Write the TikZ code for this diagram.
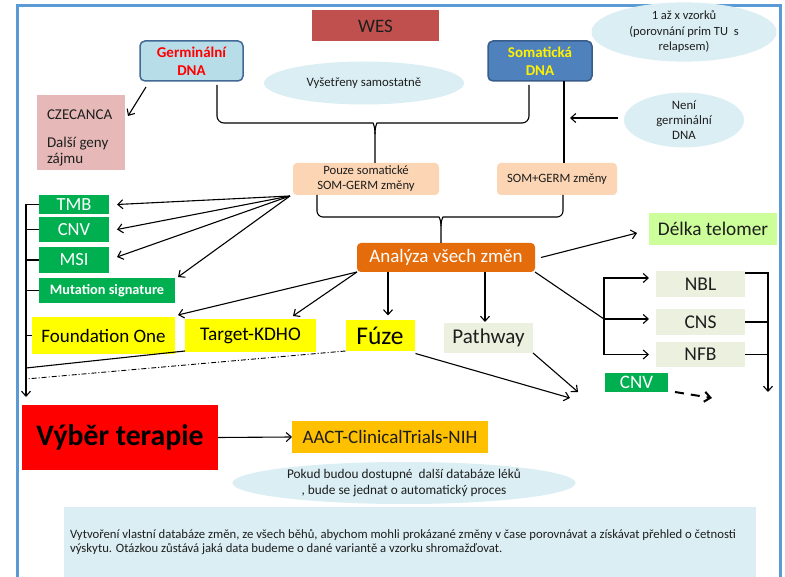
\documentclass[tikz,border=0pt]{standalone}
\usepackage{fontspec}
\setmainfont{Carlito}
\usetikzlibrary{arrows.meta,calc,shapes.geometric}
\definecolor{frameblue}{RGB}{91,155,213}
\definecolor{wesred}{RGB}{192,80,77}
\definecolor{germfill}{RGB}{183,221,232}
\definecolor{germdraw}{RGB}{65,105,150}
\definecolor{somafill}{RGB}{79,129,189}
\definecolor{somadraw}{RGB}{56,93,138}
\definecolor{ellfill}{RGB}{218,238,243}
\definecolor{pinkfill}{RGB}{230,185,184}
\definecolor{peach}{RGB}{252,213,180}
\definecolor{orangebox}{RGB}{228,108,10}
\definecolor{greenbox}{RGB}{0,176,80}
\definecolor{yellowbox}{RGB}{255,255,0}
\definecolor{paleg}{RGB}{235,241,222}
\definecolor{lightg}{RGB}{204,255,153}
\definecolor{aactfill}{RGB}{255,192,0}
\definecolor{txt}{RGB}{30,30,30}
\begin{document}
\begin{tikzpicture}[x=1pt,y=-1pt,
  every node/.style={inner sep=0pt,outer sep=0pt,text=txt},
  ln/.style={line width=1.1pt,black},
  arr/.style={ln,-{Straight Barb[length=5pt,width=9pt]}},
  ell/.style={ellipse,fill=ellfill,align=center},
  gbox/.style={fill=greenbox,text=white},
  ybox/.style={fill=yellowbox,text=black}]
\useasboundingbox (0,0) rectangle (785,577);
\fill[white] (0,0) rectangle (785,577);
\draw[frameblue,line width=3pt] (17.5,600) -- (17.5,5.5) -- (780,5.5) -- (780,600);

% top
\node[fill=wesred,minimum width=127,minimum height=31,font=\fontsize{19}{21}\selectfont] (wes) at (375.5,26) {WES};
\node[draw=germdraw,line width=1.5pt,fill=germfill,rounded corners=5pt,minimum width=103,minimum height=40,align=center,text=red,font=\fontsize{15}{17.5}\selectfont\bfseries] (germ) at (191.5,61) {Germinální\\DNA};
\node[draw=somadraw,line width=1.5pt,fill=somafill,rounded corners=5pt,minimum width=104,minimum height=40,align=center,text=yellow,font=\fontsize{15}{17.5}\selectfont\bfseries] (soma) at (540,61) {Somatická\\DNA};
\node[ell,minimum width=200,minimum height=43,font=\fontsize{12.8}{15}\selectfont] (vys) at (364,83) {Vyšetřeny samostatně};
\node[ell,minimum width=185,minimum height=45,font=\fontsize{12.5}{15.5}\selectfont] (vzor) at (684,32) {1 až x vzorků\\(porovnání prim TU\ \ s\\relapsem)};
\node[ell,minimum width=120,minimum height=44,font=\fontsize{12.8}{15}\selectfont] (neni) at (684,120) {Není\\germinální\\DNA};
\node[fill=pinkfill,minimum width=88,minimum height=75] (czech) at (81,132.5) {};
\node[anchor=north west,align=left,font=\fontsize{15}{16}\selectfont] (czechtxt) at (47,109.5) {CZECANCA\\[12pt]Další geny\\zájmu};

\node[fill=peach,rounded corners=4pt,minimum width=146,minimum height=32,align=center,font=\fontsize{12.7}{15}\selectfont] (pouze) at (366,179) {Pouze somatické\\SOM-GERM změny};
\node[fill=peach,rounded corners=4pt,minimum width=120,minimum height=32,font=\fontsize{12.7}{15}\selectfont] (somgerm) at (557,179) {SOM+GERM změny};
\node[fill=orangebox,rounded corners=4pt,minimum width=178,minimum height=29,text=white,font=\fontsize{19}{21}\selectfont] (anal) at (446,257.5) {Analýza všech změn};

% left column
\node[gbox,minimum width=70,minimum height=19,font=\fontsize{18.5}{20}\selectfont] (tmb) at (74,204.5) {TMB};
\node[gbox,minimum width=70,minimum height=25,font=\fontsize{18.5}{20}\selectfont] (cnv) at (74,229.5) {CNV};
\node[gbox,minimum width=70,minimum height=26,font=\fontsize{18.5}{20}\selectfont] (msi) at (74,260) {MSI};
\node[gbox,minimum width=136,minimum height=25,font=\fontsize{14.3}{16}\selectfont\bfseries] (mut) at (107,290.5) {Mutation signature};
\node[ybox,minimum width=143,minimum height=37,font=\fontsize{19}{21}\selectfont] (found) at (103.5,335.5) {Foundation One};
\node[ybox,minimum width=131,minimum height=33,font=\fontsize{19.3}{21}\selectfont] (target) at (250.5,335.5) {Target-KDHO};
\node[ybox,minimum width=69,minimum height=31,font=\fontsize{25.5}{28}\selectfont] (fuze) at (380,336) {Fúze};
\node[fill=paleg,minimum width=89,minimum height=30,font=\fontsize{21}{23}\selectfont] (path) at (488.5,338) {Pathway};

% right column
\node[fill=lightg,minimum width=128,minimum height=32,font=\fontsize{19.3}{21}\selectfont] (delka) at (713,229) {Délka telomer};
\node[fill=paleg,minimum width=89,minimum height=26,font=\fontsize{19.5}{21}\selectfont] (nbl) at (700.5,284) {NBL};
\node[fill=paleg,minimum width=89,minimum height=26,font=\fontsize{19.5}{21}\selectfont] (cns) at (700.5,322) {CNS};
\node[fill=paleg,minimum width=89,minimum height=25,font=\fontsize{19.5}{21}\selectfont] (nfb) at (700.5,354.5) {NFB};
\node[gbox,minimum width=63,minimum height=19,font=\fontsize{19}{20}\selectfont] (cnvb) at (636.5,382.5) {CNV};

% bottom
\node[fill=red,minimum width=196,minimum height=65,text=black,font=\fontsize{29.7}{33}\selectfont\bfseries] (vyber) at (120,437.5) {Výběr terapie};
\node[fill=aactfill,minimum width=196,minimum height=31,font=\fontsize{19}{21}\selectfont] (aact) at (390,437) {AACT-ClinicalTrials-NIH};
\node[ell,minimum width=343,minimum height=42,font=\fontsize{13.3}{15.5}\selectfont] (pokud) at (404,483) {Pokud budou dostupné\ \ další databáze léků\\, bude se jednat o automatický proces};
\node[fill=ellfill,minimum width=692,minimum height=90,anchor=north west] (db) at (64,507) {};
\node[anchor=west,align=left,font=\fontsize{12.7}{14.5}\selectfont] (dbtext) at (70,542) {Vytvoření vlastní databáze změn, ze všech běhů, abychom mohli prokázané změny v čase porovnávat a získávat přehled o četnosti\\výskytu. Otázkou zůstává jaká data budeme o dané variantě a vzorku shromažďovat.};

% coordinates
\coordinate (lt) at (26,204.5);
\coordinate (lb) at (26,397);
\coordinate (bk) at (604,319);
\coordinate (rb) at (768,392);
\coordinate (conv1) at (570,398);
\coordinate (conv2) at (578,392);
\coordinate (dashend) at (712,398);
\coordinate (sline) at ($(soma.south)+(30,37)$);

% connectors top
\draw[arr] ($(germ.south west)+(6,6)$) -- ($(czech.east)+(3,-16.5)$);
\draw[ln] ($(germ.south)+(25.5,4)$) [rounded corners=7pt] -- (217,123) -- (366,123) [sharp corners] .. controls (373,123) and (375,126) .. (375,134) -- ($(pouze.north)+(9,0)$);
\draw[ln] ($(soma.south)+(-11,4)$) [rounded corners=7pt] -- (529,123) -- (384,123) [sharp corners] .. controls (377,123) and (375,126) .. (375,134);
\draw[line width=2.6pt] ($(soma.south)+(24,0)$) -- ($(somgerm.north)+(7,0)$);
\draw[arr] ($(neni.west)+(-6,-2)$) -- (sline);
\draw[ln] ($(pouze.south)+(-49,0)$) [rounded corners=6pt] -- (317,217) -- (433,217) [sharp corners] .. controls (439,217) and (441,220) .. (441,226) -- ($(anal.north)+(-5,0)$);
\draw[ln] ($(somgerm.south)+(6,0)$) [rounded corners=6pt] -- (563,217) -- (449,217) [sharp corners] .. controls (443,217) and (441,220) .. (441,226);

% pouze to left boxes
\draw[arr] ($(pouze.south west)+(-3,1)$) -- ($(tmb.east)+(8,0)$);
\draw[arr] ($(pouze.south west)+(-3,1)$) -- ($(cnv.east)+(8,0)$);
\draw[arr] ($(pouze.south west)+(-3,1)$) -- ($(msi.east)+(8,-3)$);
\draw[arr] ($(pouze.south west)+(-3,1)$) -- ($(mut.north east)+(3,-1)$);

% left bracket
\draw[arr] (tmb.west) -- (lt) -- (lb);
\draw[ln] (cnv.west) -- (cnv.west -| lt);
\draw[ln] (msi.west) -- (msi.west -| lt);
\draw[ln] (mut.west) -- (mut.west -| lt);
\draw[ln] (found.west) -- (found.west -| lt);
\draw[ln] ($(target.south west)+(0,-1)$) -- ($(lt |- lb)+(0,-29)$);
\draw[line width=0.9pt,dash pattern=on 5pt off 2pt on 1pt off 2pt] ($(fuze.south west)+(0,-0.5)$) -- ($(lt |- lb)+(0,-18)$);

% analysis arrows
\draw[arr] (anal.south west) -- ($(found.north east)+(3,-2)$);
\draw[arr] (anal.south west) -- ($(target.north)+(42.5,-3)$);
\draw[arr] ($(anal.south)+(-58,0)$) -- ($(fuze.north)+(8,-5)$);
\draw[arr] ($(anal.south)+(39,0)$) -- ($(path.north)+(-3.5,-1)$);
\draw[arr] ($(anal.east)+(6,0)$) -- ($(delka.west)+(-12,4)$);
\draw[ln] (anal.south east) -- (bk);
\draw[arr] (bk) |- ($(nbl.west)+(-7,-6)$);
\draw[arr] (bk) -- ($(cns.west)+(-7,-3)$);
\draw[arr] (bk) |- ($(nfb.west)+(-7,0)$);
\draw[arr] ($(nbl.north east)+(0,2)$) -| (rb);
\draw[ln] (cns.east) -- (cns.east -| rb);
\draw[ln] (nfb.east) -- (nfb.east -| rb);
\draw[line width=2pt,dash pattern=on 9pt off 7pt,-{Straight Barb[length=6pt,width=10pt]}] ($(cnvb.south east)+(7,0)$) -- (dashend);
\draw[arr] ($(fuze.south east)+(1,2)$) -- (conv1);
\draw[arr] (path.south east) -- (conv2);

% bottom
\draw[arr] (vyber.east) -- (aact.west);
\end{tikzpicture}
\end{document}
